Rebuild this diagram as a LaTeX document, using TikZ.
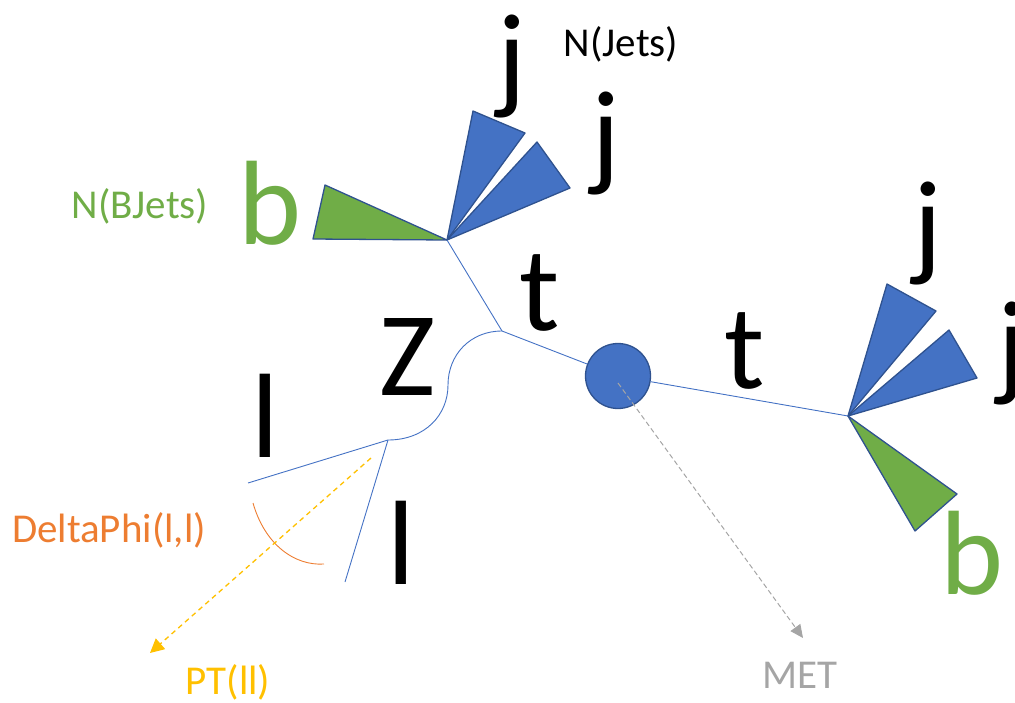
\documentclass[tikz,border=0pt]{standalone}
\usepackage{fontspec}
\setmainfont{Carlito}
\usetikzlibrary{arrows.meta}
\definecolor{jetblue}{HTML}{4472C4}
\definecolor{jetedge}{HTML}{2F528F}
\definecolor{bgreen}{HTML}{70AD47}
\definecolor{dphi}{HTML}{ED7D31}
\definecolor{ptyel}{HTML}{FFC000}
\definecolor{metgray}{HTML}{A5A5A5}
\tikzset{
  big/.style={inner sep=0pt, font=\fontsize{120}{120}\selectfont},
  lbl/.style={inner sep=0pt, font=\fontsize{41}{41}\selectfont},
  jetcone/.style={fill=jetblue, draw=jetedge, line width=1.3pt, line join=round},
  bcone/.style={fill=bgreen, draw=jetedge, line width=1.3pt, line join=round},
  track/.style={draw=jetblue, line width=0.9pt},
}
\begin{document}
\begin{tikzpicture}[x=1pt,y=-1pt]
\useasboundingbox (0,0) rectangle (1015,702);

% vertices
\coordinate (vtop) at (447,240);
\coordinate (vjoin) at (502,331);
\coordinate (vlep) at (388,440);
\coordinate (vright) at (848,416);
\coordinate (lepA) at (248,483);
\coordinate (lepB) at (345,582);

% jets of the upper top
\path[jetcone] (vtop) -- (473,111) -- (525,133) -- cycle;
\path[jetcone] (vtop) -- (537,142) -- (570,188) -- cycle;
\path[bcone] (vtop) -- (325,185) -- (313,239) -- cycle;

% jets of the right top
\path[jetcone] (vright) -- (887,284) -- (936,311) -- cycle;
\path[jetcone] (vright) -- (949,330) -- (977,378) -- cycle;
\path[bcone] (vright) -- (957,494) -- (915,531) -- cycle;

% top quark lines and Z boson
\draw[track] (vtop) -- (vjoin);
\node[circle, minimum size=65pt, inner sep=0pt, fill=jetblue, draw=jetedge, line width=1.3pt] (higgs) at (618,376) {};
\draw[track] (vjoin) -- (higgs);
\draw[track] (higgs) -- (vright);
\draw[track] (vjoin) .. controls (470,331) and (448,355) .. (448,385)
                     .. controls (448,415) and (425,440) .. (vlep);
\draw[track] (vlep) -- (lepA);
\draw[track] (vlep) -- (lepB);

% angle between the leptons
\draw[dphi, line width=0.9pt] (253,503) .. controls (265,545) and (295,566) .. (324,564);

% dilepton momentum and missing energy
\coordinate (ptstart) at (371,458);
\coordinate (ptend) at (150,653);
\draw[ptyel, line width=1.3pt, dash pattern=on 5pt off 4pt, -{Triangle[length=14pt,width=14pt]}] (ptstart) -- (ptend);
\coordinate (metstart) at (618,383);
\coordinate (metend) at (803,638);
\draw[metgray, line width=1pt, dash pattern=on 5pt off 3pt, -{Triangle[length=13pt,width=12pt]}] (metstart) -- (metend);

% particle letters
\node[big] (j1) at (512,66) {j};
\node[big] (j2) at (606,143) {j};
\node[big, text=bgreen] (b1) at (270,203) {b};
\node[big] (t1) at (540,293) {t};
\node[big] (z) at (408,357) {Z};
\node[big] (l1) at (265,416) {l};
\node[big] (l2) at (401,543) {l};
\node[big] (t2) at (745,351) {t};
\node[big] (j3) at (928,233) {j};
\node[big] (j4) at (1012,353) {j};
\node[big, text=bgreen] (b2) at (972,553) {b};

% variable labels
\node[lbl] (njets) at (621,44) {N(Jets)};
\node[lbl, text=bgreen] (nbjets) at (140,206) {N(BJets)};
\node[lbl, text=dphi] (dphilbl) at (109,530) {DeltaPhi(l,l)};
\node[lbl, text=ptyel] (ptlbl) at (228,682) {PT(ll)};
\node[lbl, text=metgray] (metlbl) at (800,675) {MET};
\end{tikzpicture}
\end{document}
